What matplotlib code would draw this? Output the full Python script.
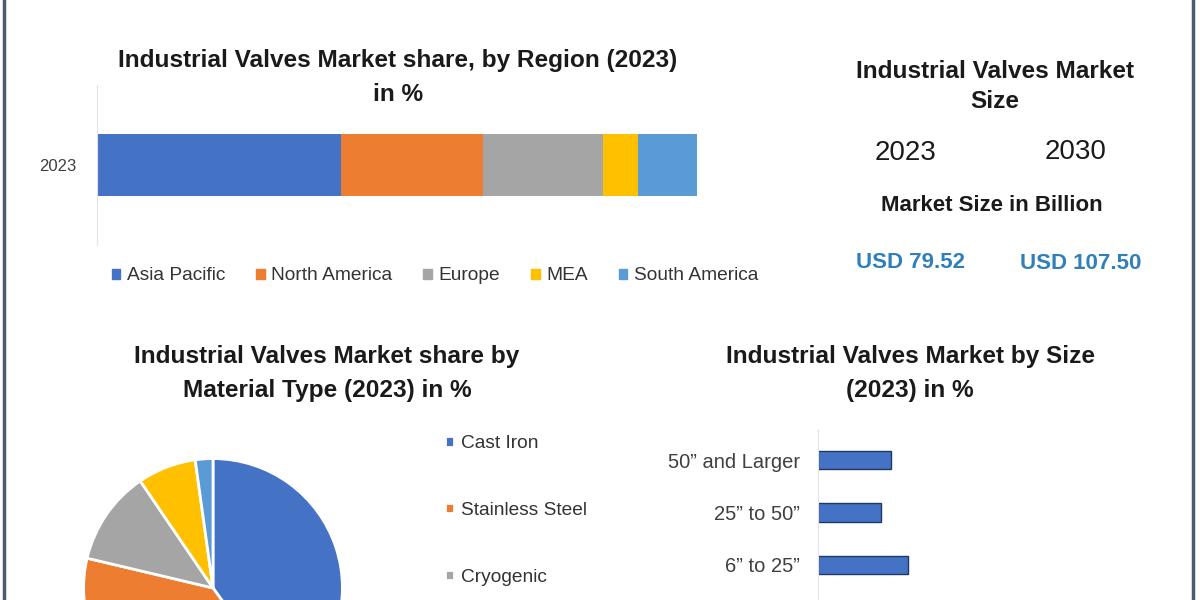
import matplotlib.pyplot as plt
from matplotlib.lines import Line2D
from matplotlib.patches import Patch

# Region share (2023), %
regions = ["Asia Pacific", "North America", "Europe", "MEA", "South America"]
region_share = [40.6, 23.7, 20.0, 5.8, 9.9]
region_colors = ["#4472c4", "#ed7d31", "#a5a5a5", "#ffc000", "#5b9bd5"]

# Material type share (2023), %
materials = ["Cast Iron", "Stainless Steel", "Cryogenic", "Alloy Based", "Others"]
material_share = [40.0, 38.7, 11.8, 7.3, 2.2]

# Size share (2023), %
sizes = ["50\u201d and Larger", "25\u201d to 50\u201d", "6\u201d to 25\u201d"]
size_share = [14.6, 12.6, 18.0]

# Market size
years = ["2023", "2030"]
market_values = ["USD 79.52", "USD 107.50"]

FONT = "Liberation Sans"
W, H = 1200, 600

fig = plt.figure(figsize=(12, 6), dpi=100)
fig.patch.set_facecolor("white")


def fx(x):
    return x / W


def fy(y):
    return 1 - y / H


def put(txt, x, y, size, weight="bold", color="#1a1a1a"):
    fig.text(fx(x), fy(y), txt, ha="center", va="center", fontsize=size,
             fontweight=weight, color=color, family=FONT)


# frame lines left / right
fig.add_artist(Line2D([fx(4), fx(4)], [0, 1], transform=fig.transFigure,
                      color="#4d5b6b", lw=2.5))
fig.add_artist(Line2D([fx(1193), fx(1193)], [0, 1], transform=fig.transFigure,
                      color="#4d5b6b", lw=2.5))

# --- stacked bar by region ---
ax1 = fig.add_axes([fx(97), fy(245), 600 / W, 160 / H])
left = 0
for name, val, col in zip(regions, region_share, region_colors):
    ax1.barh([0], [val], left=left, height=0.39, color=col, label=name)
    left += val
ax1.set_xlim(0, 100)
ax1.set_ylim(-0.5, 0.5)
ax1.set_yticks([0])
ax1.set_yticklabels(["2023"], fontsize=12, color="#404040", family=FONT)
ax1.tick_params(axis="y", length=0, pad=15)
ax1.set_xticks([])
for s in ["top", "right", "bottom"]:
    ax1.spines[s].set_visible(False)
ax1.spines["left"].set_color("#e3e3e3")

fig.legend(handles=[Patch(color=c) for c in region_colors], labels=regions,
           loc="center", bbox_to_anchor=(fx(435), fy(276)), ncol=5, frameon=False,
           prop={"family": FONT, "size": 13.8}, handlelength=0.45, handleheight=0.45,
           handletextpad=0.35, columnspacing=1.6, labelcolor="#333333")

put("Industrial Valves Market share, by Region (2023)", 398, 61, 17.6)
put("in %", 398, 94, 17.6)

# --- market size panel ---
put("Industrial Valves Market", 995, 72, 17.6)
put("Size", 995, 101, 17.6)
put(years[0], 905, 153, 20, weight="normal")
put(years[1], 1076, 152, 20, weight="normal")
put("Market Size in Billion", 992, 206, 16)
put(market_values[0], 910, 262, 16, color="#2f7fba")
put(market_values[1], 1081, 264, 16, color="#2f7fba")

# --- pie by material ---
r = 132
ax2 = fig.add_axes([fx(213 - r), fy(588 + r), 2 * r / W, 2 * r / H])
wedges, _ = ax2.pie(material_share, colors=region_colors, startangle=90,
                    counterclock=False,
                    wedgeprops=dict(edgecolor="white", linewidth=2))
ax2.set_xlim(-1.02, 1.02)
ax2.set_ylim(-1.02, 1.02)
ax2.axis("off")

# only the first three legend rows fit inside the crop
fig.legend(wedges[:3], materials[:3], loc="upper left", bbox_to_anchor=(fx(428), fy(418)),
           frameon=False, prop={"family": FONT, "size": 13.8},
           handlelength=0.45, handleheight=0.45, handletextpad=0.35,
           labelspacing=2.6, labelcolor="#333333")

put("Industrial Valves Market share by", 327, 357, 17.6)
put("Material Type (2023) in %", 327, 390, 17.6)

# --- horizontal bars by size ---
step = 52.5
ax3 = fig.add_axes([fx(818), fy(565 + 1.2 * step), 300 / W, 3.8 * step / H])
ax3.barh(range(len(sizes)), size_share, height=0.36, color="#4472c4",
         edgecolor="#1f3864", linewidth=1)
ax3.set_xlim(0, 60)
ax3.set_ylim(3.2, -0.6)
ax3.set_yticks(range(len(sizes)))
ax3.set_yticklabels(sizes, fontsize=14.5, color="#404040", family=FONT)
ax3.tick_params(axis="y", length=0, pad=13)
ax3.set_xticks([])
for s in ["top", "right", "bottom"]:
    ax3.spines[s].set_visible(False)
ax3.spines["left"].set_color("#e3e3e3")

put("Industrial Valves Market by Size", 910, 357, 17.6)
put("(2023) in %", 910, 390, 17.6)

fig.savefig("out.png", dpi=100)
